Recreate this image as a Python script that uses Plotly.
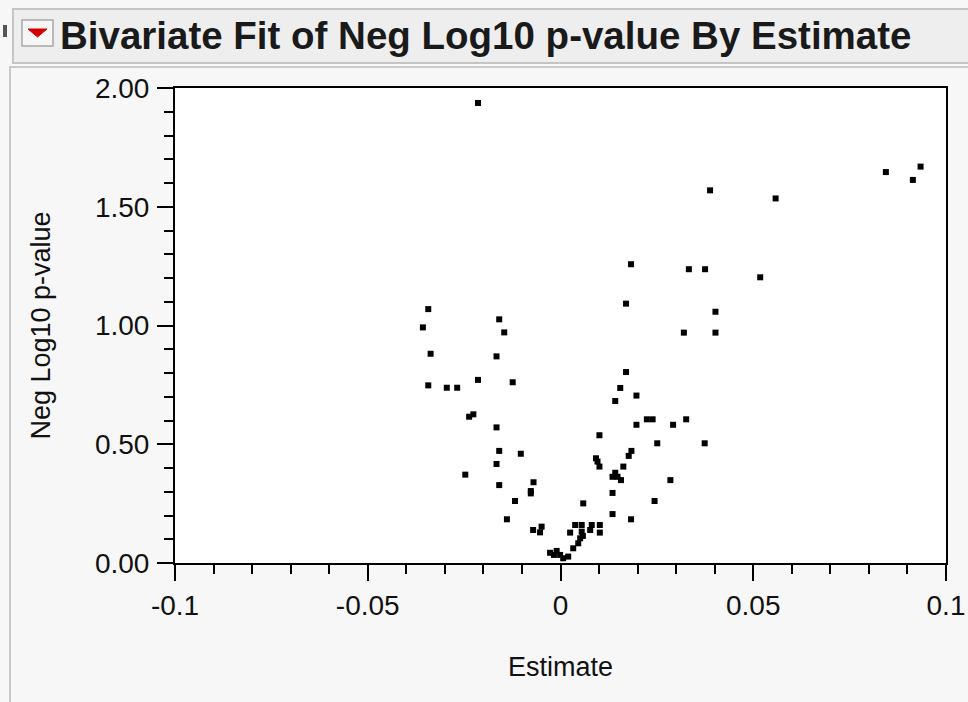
import plotly.graph_objects as go

# Data (Estimate, Neg Log10 p-value)
estimate = [
    -0.0214, 0.0844, 0.0934, 0.0914, 0.0388, 0.0558, 0.0333, 0.0375, 0.0518, 0.0402,
    0.0320, 0.0402, 0.0224, 0.0239, 0.0292, 0.0326, 0.0251, 0.0374, 0.0170, 0.0155,
    0.0142, 0.0197, 0.0197, 0.0101, 0.0184, 0.0177, 0.0092, 0.0096, 0.0101, 0.0163,
    0.0142, 0.0135, 0.0148, 0.0157, 0.0285, 0.0135, 0.0244, 0.0059, 0.0135, 0.0183,
    0.0183, 0.0170,
    0.0038, 0.0055, 0.0081, 0.0102, 0.0025, 0.0055, 0.0077, 0.0102, 0.0051, 0.0058,
    0.0046, 0.0033, -0.0027, -0.0010, -0.0001, 0.0007, 0.0020, -0.0017,
    -0.0049, -0.0053,
    -0.0343, -0.0357, -0.0159, -0.0146, -0.0337, -0.0166, -0.0343, -0.0295, -0.0268, -0.0214,
    -0.0124, -0.0237, -0.0226, -0.0166, -0.0159, -0.0103, -0.0166, -0.0247, -0.0159, -0.0070,
    -0.0077, -0.0077, -0.0118, -0.0139, -0.0071,
]
neg_log10_p = [
    1.937, 1.646, 1.669, 1.613, 1.569, 1.535, 1.237, 1.237, 1.203, 1.058,
    0.970, 0.970, 0.605, 0.605, 0.582, 0.605, 0.504, 0.504, 0.804, 0.737,
    0.682, 0.705, 0.582, 0.538, 0.472, 0.451, 0.441, 0.427, 0.406, 0.406,
    0.380, 0.363, 0.363, 0.349, 0.349, 0.295, 0.261, 0.251, 0.206, 0.184,
    1.258, 1.092,
    0.160, 0.160, 0.160, 0.160, 0.128, 0.132, 0.139, 0.128, 0.104, 0.114,
    0.083, 0.062, 0.043, 0.051, 0.034, 0.020, 0.027, 0.034,
    0.153, 0.129,
    1.069, 0.992, 1.026, 0.971, 0.881, 0.870, 0.748, 0.738, 0.738, 0.771,
    0.761, 0.616, 0.626, 0.571, 0.472, 0.460, 0.417, 0.372, 0.328, 0.340,
    0.303, 0.293, 0.261, 0.184, 0.139,
]

x_tickvals = [-0.1, -0.05, 0, 0.05, 0.1]
x_ticktext = ["-0.1", "-0.05", "0", "0.05", "0.1"]
y_tickvals = [0.0, 0.5, 1.0, 1.5, 2.0]
y_ticktext = ["0.00", "0.50", "1.00", "1.50", "2.00"]

W, H = 968, 702
L, R, T, B = 175, 946, 88, 563


def px_x(p):
    return (p - L) / (R - L)


def px_y(p):
    return (B - p) / (B - T)


FONT = "Liberation Sans, Arial, sans-serif"

fig = go.Figure()
fig.add_trace(go.Scatter(
    x=estimate, y=neg_log10_p, mode="markers",
    marker=dict(symbol="square", size=6, color="black", line=dict(width=0)),
    hoverinfo="x+y", showlegend=False,
))

shapes = [
    # outer panel outline
    dict(type="rect", xref="paper", yref="paper",
         x0=px_x(10), x1=px_x(975), y0=px_y(67), y1=px_y(710),
         line=dict(color="#c8c8c8", width=2), fillcolor="rgba(0,0,0,0)", layer="below"),
    # title bar
    dict(type="rect", xref="paper", yref="paper",
         x0=px_x(13), x1=px_x(975), y0=px_y(9), y1=px_y(63),
         line=dict(color="#c4c4c4", width=2), fillcolor="#eeeeee", layer="below"),
    # icon box
    dict(type="rect", xref="paper", yref="paper",
         x0=px_x(22), x1=px_x(53), y0=px_y(20), y1=px_y(46),
         line=dict(color="#a8a8a8", width=1.5), fillcolor="#f6f6f6"),
    # red triangle
    dict(type="path", xref="paper", yref="paper",
         path="M {a},{b} L {c},{b} L {d},{e} Z".format(
             a=px_x(28), b=px_y(29), c=px_x(47), d=px_x(37.5), e=px_y(37)),
         line=dict(color="#d40000", width=1), fillcolor="#d40000"),
    # small dark mark at left edge
    dict(type="rect", xref="paper", yref="paper",
         x0=px_x(3), x1=px_x(7), y0=px_y(25), y1=px_y(37),
         line=dict(width=0), fillcolor="#555555"),
]

fig.update_layout(
    width=W, height=H,
    margin=dict(l=L, r=W - R, t=T, b=H - B, pad=0, autoexpand=False),
    paper_bgcolor="#f7f7f7",
    plot_bgcolor="white",
    font=dict(family=FONT, size=28, color="#111111"),
    shapes=shapes,
    annotations=[
        dict(text="<b>Bivariate Fit of Neg Log10 p-value By Estimate</b>",
             xref="paper", yref="paper", x=px_x(58), y=px_y(35),
             xanchor="left", yanchor="middle", showarrow=False,
             font=dict(family=FONT, size=38.5, color="#1a1a1a")),
    ],
    xaxis=dict(
        range=[-0.1, 0.1], tickvals=x_tickvals, ticktext=x_ticktext,
        ticks="outside", ticklen=16, tickwidth=1.5, tickcolor="black",
        minor=dict(dtick=0.01, tick0=0, ticks="outside", ticklen=9,
                   tickwidth=1.5, tickcolor="black", showgrid=False),
        showline=True, linecolor="black", linewidth=2, mirror=True,
        showgrid=False, zeroline=False, ticklabelstandoff=0,
        automargin=False,
        title=dict(text="Estimate", standoff=38, font=dict(size=27)),
    ),
    yaxis=dict(
        range=[0, 2], tickvals=y_tickvals, ticktext=y_ticktext,
        ticks="outside", ticklen=16, tickwidth=1.5, tickcolor="black",
        minor=dict(dtick=0.1, tick0=0, ticks="outside", ticklen=9,
                   tickwidth=1.5, tickcolor="black", showgrid=False),
        showline=True, linecolor="black", linewidth=2, mirror=True,
        showgrid=False, zeroline=False, ticklabelstandoff=2,
        automargin=False,
        title=dict(text="Neg Log10 p-value", standoff=36, font=dict(size=27)),
    ),
)

fig.write_html(
    "out.html",
    config={"displayModeBar": False},
    post_script="document.body.style.margin='0';document.body.style.overflow='hidden';",
)
